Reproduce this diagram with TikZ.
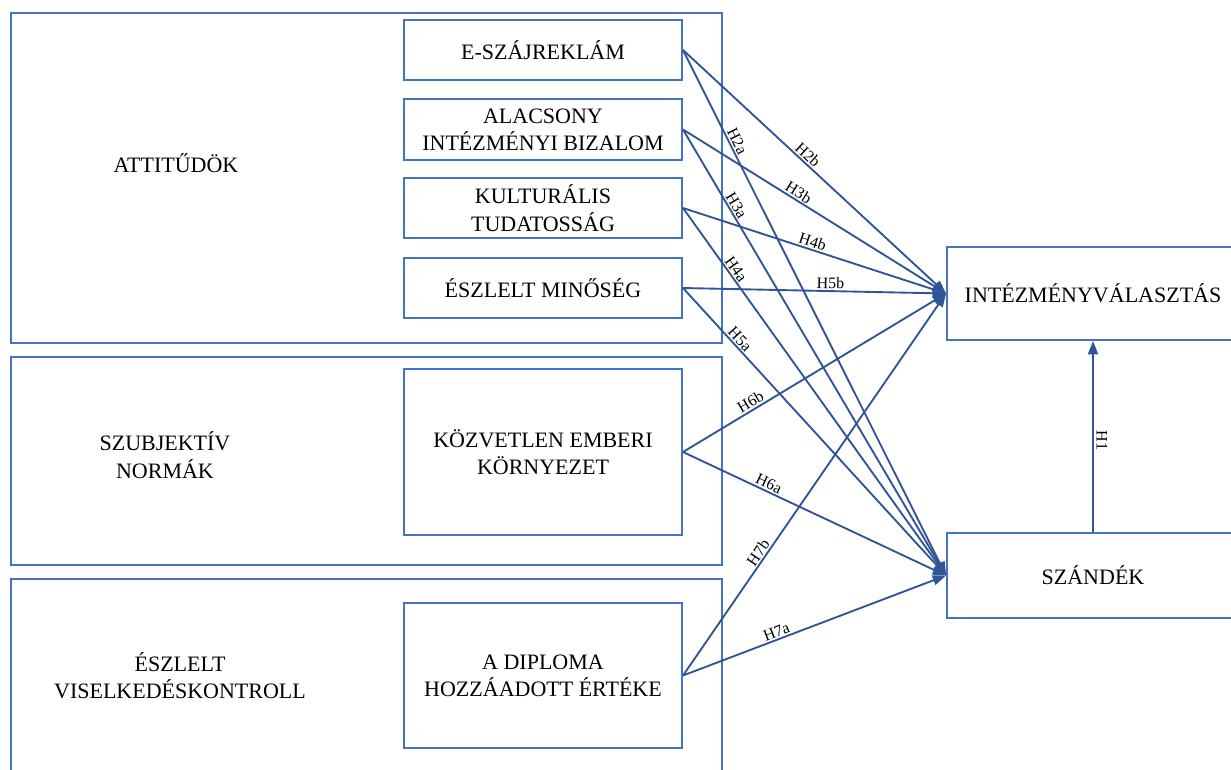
\documentclass[tikz,border=0pt]{standalone}
\usepackage{fontspec}
\setmainfont{Liberation Serif}
\usetikzlibrary{arrows.meta}
\definecolor{boxblue}{HTML}{4472C4}
\definecolor{arrblue}{HTML}{2F5597}
\newcommand\mainfs{\fontsize{16.5}{20.5}\selectfont}
\newcommand\labfs{\fontsize{12}{13.5}\selectfont}
\begin{document}
\begin{tikzpicture}[x=0.75pt,y=-0.75pt,
  outerbox/.style={draw=boxblue, line width=1.5pt, minimum width=533.25pt, inner sep=0pt},
  innerbox/.style={draw=boxblue, line width=1.5pt, minimum width=208.5pt, align=center, inner sep=0pt, font=\mainfs},
  rightbox/.style={draw=boxblue, line width=1.5pt, minimum width=219pt, inner sep=0pt, font=\mainfs},
  grouptext/.style={align=center, font=\mainfs, inner sep=0pt},
  hyp/.style={draw=arrblue, line width=1.4pt, -{Triangle[length=10pt,width=7.5pt]}},
  lab/.style={font=\labfs, sloped, above, inner sep=1pt}
]
\useasboundingbox (0,0) rectangle (1231,769);
\clip (0,0) rectangle (1231,769);
% group boxes
\node[outerbox, minimum height=247.5pt] (g1) at (366.5,178) {};
\node[outerbox, minimum height=156pt] (g2) at (366.5,461) {};
\node[outerbox, minimum height=165.75pt] (g3) at (366.5,689.5) {};
\node[grouptext] (g1t) at (176,163) {ATTITŰDÖK};
\node[grouptext] (g2t) at (165,455) {SZUBJEKTÍV\\NORMÁK};
\node[grouptext] (g3t) at (180,676) {ÉSZLELT\\VISELKEDÉSKONTROLL};
% inner boxes
\node[innerbox, minimum height=45pt] (e) at (543,50) {E-SZÁJREKLÁM};
\node[innerbox, minimum height=45.75pt] (a) at (543,129.5) {ALACSONY\\INTÉZMÉNYI BIZALOM};
\node[innerbox, minimum height=45pt] (k) at (543,208) {KULTURÁLIS\\TUDATOSSÁG};
\node[innerbox, minimum height=45pt] (m) at (543,288) {ÉSZLELT MINŐSÉG};
\node[innerbox, minimum height=124.5pt] (z) at (543,452) {KÖZVETLEN EMBERI\\KÖRNYEZET};
\node[innerbox, minimum height=108.75pt] (d) at (543,675.5) {A DIPLOMA\\HOZZÁADOTT ÉRTÉKE};
% right boxes
\node[rightbox, minimum height=69.75pt] (int) at (1093,293.5) {INTÉZMÉNYVÁLASZTÁS};
\node[rightbox, minimum height=63.75pt] (sz) at (1093,575.5) {SZÁNDÉK};
% arrows
\draw[hyp] (e.east) -- node[lab,pos=0.455]{H2b} (int.west);
\draw[hyp] (e.east) -- node[lab,pos=0.18]{H2a} (sz.west);
\draw[hyp] (a.east) -- node[lab,pos=0.424]{H3b} (int.west);
\draw[hyp] (a.east) -- node[lab,pos=0.178]{H3a} (sz.west);
\draw[hyp] (k.east) -- node[lab,pos=0.484]{H4b} (int.west);
\draw[hyp] (k.east) -- node[lab,pos=0.178]{H4a} (sz.west);
\draw[hyp] (m.east) -- node[lab,pos=0.56]{H5b} (int.west);
\draw[hyp] (m.east) -- node[lab,pos=0.195]{H5a} (sz.west);
\draw[hyp] (z.east) -- node[lab,pos=0.272]{H6b} (int.west);
\draw[hyp] (z.east) -- node[lab,pos=0.314]{H6a} (sz.west);
\draw[hyp] (d.east) -- node[lab,pos=0.31]{H7b} (int.west);
\draw[hyp] (d.east) -- node[lab,pos=0.366]{H7a} (sz.west);
\draw[hyp] (sz.north) -- node[pos=0.48, rotate=-90, anchor=south, font=\labfs, inner sep=2pt]{H1} (int.south);
\end{tikzpicture}
\end{document}
